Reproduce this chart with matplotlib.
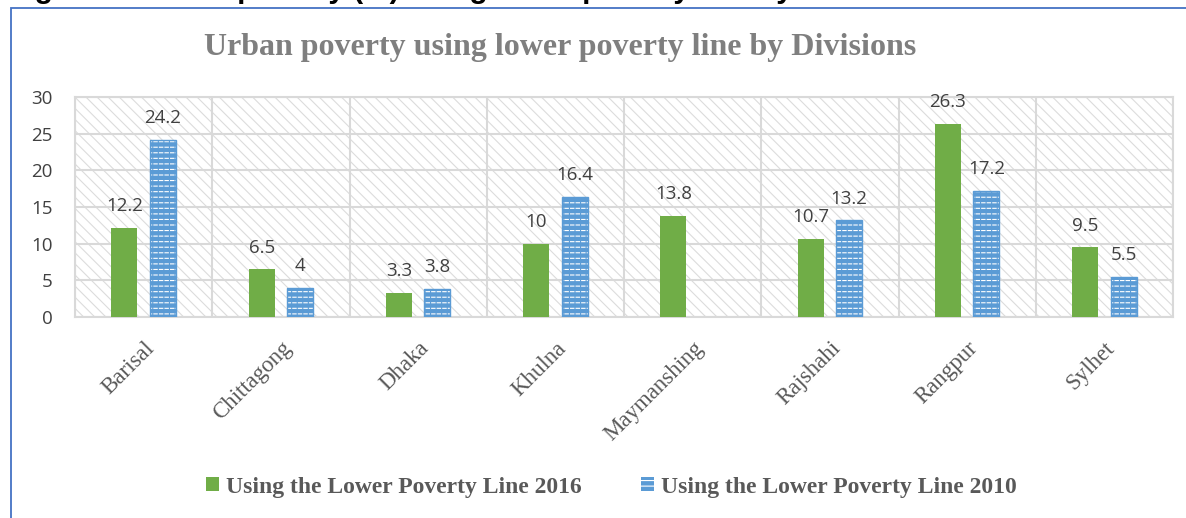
import numpy as np
import matplotlib
matplotlib.use("Agg")
import matplotlib.pyplot as plt
from matplotlib.patches import Rectangle, Patch
from matplotlib.transforms import blended_transform_factory, ScaledTranslation

# ---- data ----
divisions = ["Barisal", "Chittagong", "Dhaka", "Khulna", "Maymanshing", "Rajshahi", "Rangpur", "Sylhet"]
lpl_2016 = [12.2, 6.5, 3.3, 10, 13.8, 10.7, 26.3, 9.5]
lpl_2010 = [24.2, 4, 3.8, 16.4, np.nan, 13.2, 17.2, 5.5]
series_names = ["Using the Lower Poverty Line 2016", "Using the Lower Poverty Line 2010"]
y_ticks = [0, 5, 10, 15, 20, 25, 30]
title = "Urban poverty using lower poverty line by Divisions"
header = "Figure 3: Urban poverty (%) using lower poverty line by Division"

GREEN = "#70AD47"
BLUE = "#5B9BD5"
TXT = "#404040"
GRID = "#D9D9D9"

plt.rcParams["hatch.linewidth"] = 0.8

W, H = 1186, 518
fig = plt.figure(figsize=(W / 100, H / 100), dpi=100)
fig.patch.set_facecolor("white")

# frame of the chart (extends beyond the image right/bottom)
frame = Rectangle((11 / W, -0.2), 1.5, 1 - 8 / H + 0.2, transform=fig.transFigure,
                  fill=False, edgecolor="#4472C4", lw=1.3, clip_on=False)
fig.patches.append(frame)

# header of the page, cut off at the top edge as in the reference
fig.text(8 / W, 1 + 2.3 / H, header, ha="left", va="baseline", fontsize=21.5,
         fontweight="bold", family="Liberation Sans", color="black")

ax = fig.add_axes([75 / W, 1 - 317 / H, (1173 - 75) / W, (317 - 97) / H])
ax.patch.set_facecolor("white")
ax.patch.set_hatch("\\\\\\")
ax.patch.set_edgecolor("#DCDCDC")
ax.patch.set_linewidth(0)

x = np.arange(len(divisions))
off = 0.14
bw = 0.19
b1 = ax.bar(x - off, lpl_2016, bw, color=GREEN, edgecolor=GREEN, lw=0, zorder=3)
b2 = ax.bar(x + off, lpl_2010, bw, color=BLUE, edgecolor="white", lw=0, hatch="---", zorder=3)
ax.bar(x + off, lpl_2010, bw, facecolor="none", edgecolor=BLUE, lw=1.0, hatch="|||", zorder=4)

for bars, vals in ((b1, lpl_2016), (b2, lpl_2010)):
    for rect, v in zip(bars, vals):
        if np.isnan(v):
            continue
        ax.annotate("%g" % v, (rect.get_x() + rect.get_width() / 2, v), xytext=(0, 12),
                    textcoords="offset points", ha="center", va="baseline",
                    fontsize=13.5, color=TXT, family="Open Sans", zorder=5,
                    annotation_clip=False)

ax.set_xlim(-0.5, len(divisions) - 0.5)
ax.set_ylim(0, 30)
ax.set_yticks(y_ticks)
ax.set_yticklabels([str(t) for t in y_ticks], fontsize=13.5, color=TXT, family="Open Sans")
ax.tick_params(axis="y", length=0, pad=16)

# grid: horizontal at ticks, vertical at category boundaries
for t in y_ticks:
    ax.axhline(t, color=GRID, lw=1.5, zorder=1)
for b in np.arange(len(divisions) + 1) - 0.5:
    ax.axvline(b, color=GRID, lw=1.5, zorder=1)
for s in ax.spines.values():
    s.set_color(GRID)
    s.set_linewidth(1.5)

ax.set_xticks(x)
ax.set_xticklabels(divisions, rotation=45, ha="right", rotation_mode="anchor",
                   fontsize=16.5, color="#595959", family="Liberation Serif")
ax.tick_params(axis="x", length=0, pad=15)

fig.text(560 / W, 1 - 48 / H, title, ha="center", va="center", fontsize=23,
         fontweight="bold", family="Liberation Serif", color="#7F7F7F")

# legend
h1 = Patch(facecolor=GREEN, edgecolor=GREEN, lw=0)
h2 = Patch(facecolor=BLUE, edgecolor="white", lw=0, hatch="---")
leg = fig.legend([h1, h2], series_names, loc="center", bbox_to_anchor=(611 / W, 1 - 487 / H),
                 ncol=2, frameon=False, handlelength=0.55, handleheight=0.55, handletextpad=0.3,
                 columnspacing=2.5,
                 prop={"family": "Liberation Serif", "weight": "bold", "size": 17})
for t in leg.get_texts():
    t.set_color("#595959")

fig.savefig("out.png", dpi=100)
